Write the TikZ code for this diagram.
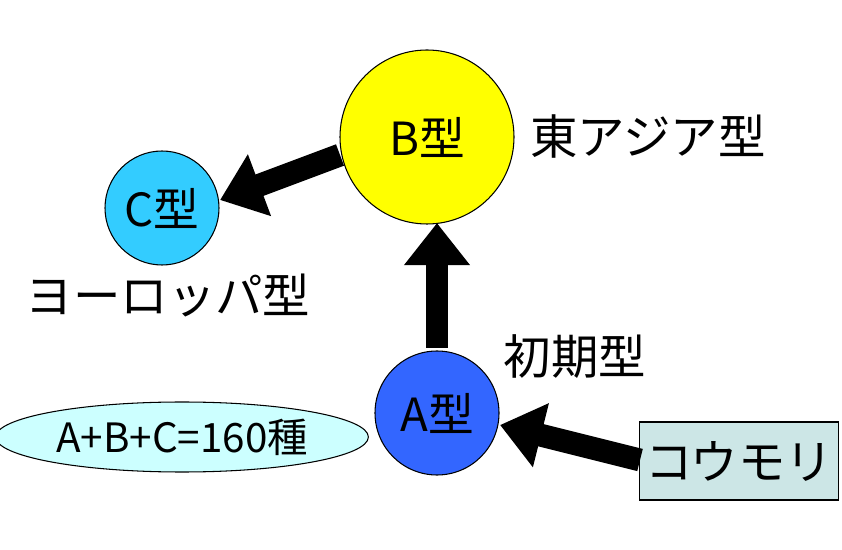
\documentclass[tikz,border=0pt]{standalone}
\usepackage{fontspec}
\setmainfont{Noto Sans CJK JP}
\usetikzlibrary{arrows.meta,shapes.geometric}
\definecolor{byellow}{RGB}{255,255,0}
\definecolor{ccyan}{RGB}{51,204,255}
\definecolor{ablue}{RGB}{51,102,255}
\definecolor{elcyan}{RGB}{204,255,255}
\definecolor{batgray}{RGB}{204,230,230}
\tikzset{
  type/.style={circle,draw=black,line width=0.6pt,inner sep=0pt,font=\fontsize{26}{30}\selectfont},
  lbl/.style={font=\fontsize{27}{32}\selectfont},
  bigarrow/.style={line width=13pt,-{Triangle[length=24pt,width=36pt]}}
}
\begin{document}
\begin{tikzpicture}[x=0.02cm,y=-0.02cm]
  \useasboundingbox (0,0) rectangle (842,550);
  \node[type,fill=byellow,minimum size=174*0.02cm] (B) at (427,137) {B型};
  \node[type,fill=ccyan,minimum size=114*0.02cm] (C) at (162,208) {C型};
  \node[type,fill=ablue,minimum size=124*0.02cm] (A) at (437,413) {A型};
  \node[ellipse,draw=black,line width=0.6pt,fill=elcyan,minimum width=350*0.02cm,minimum height=70*0.02cm,font=\fontsize{23}{28}\selectfont] (sum) at (182,437) {A+B+C=160種};
  \node[rectangle,draw=black,line width=0.6pt,fill=batgray,minimum width=188*0.02cm,minimum height=78*0.02cm,lbl] (bat) at (739,461) {コウモリ};
  \node[lbl] (east) at (648,137) {東アジア型};
  \node[lbl] (euro) at (168,295) {ヨーロッパ型};
  \node[lbl] (early) at (575,357) {初期型};
  \coordinate (bc) at (340,155);
  \coordinate (ct) at (220,200);
  \coordinate (ab) at (437,348);
  \coordinate (bt) at (437,223);
  \coordinate (bs) at (640,460);
  \coordinate (at) at (500,425);
  \draw[bigarrow] (bc) -- (ct);
  \draw[bigarrow] (ab) -- (bt);
  \draw[bigarrow] (bs) -- (at);
\end{tikzpicture}
\end{document}
